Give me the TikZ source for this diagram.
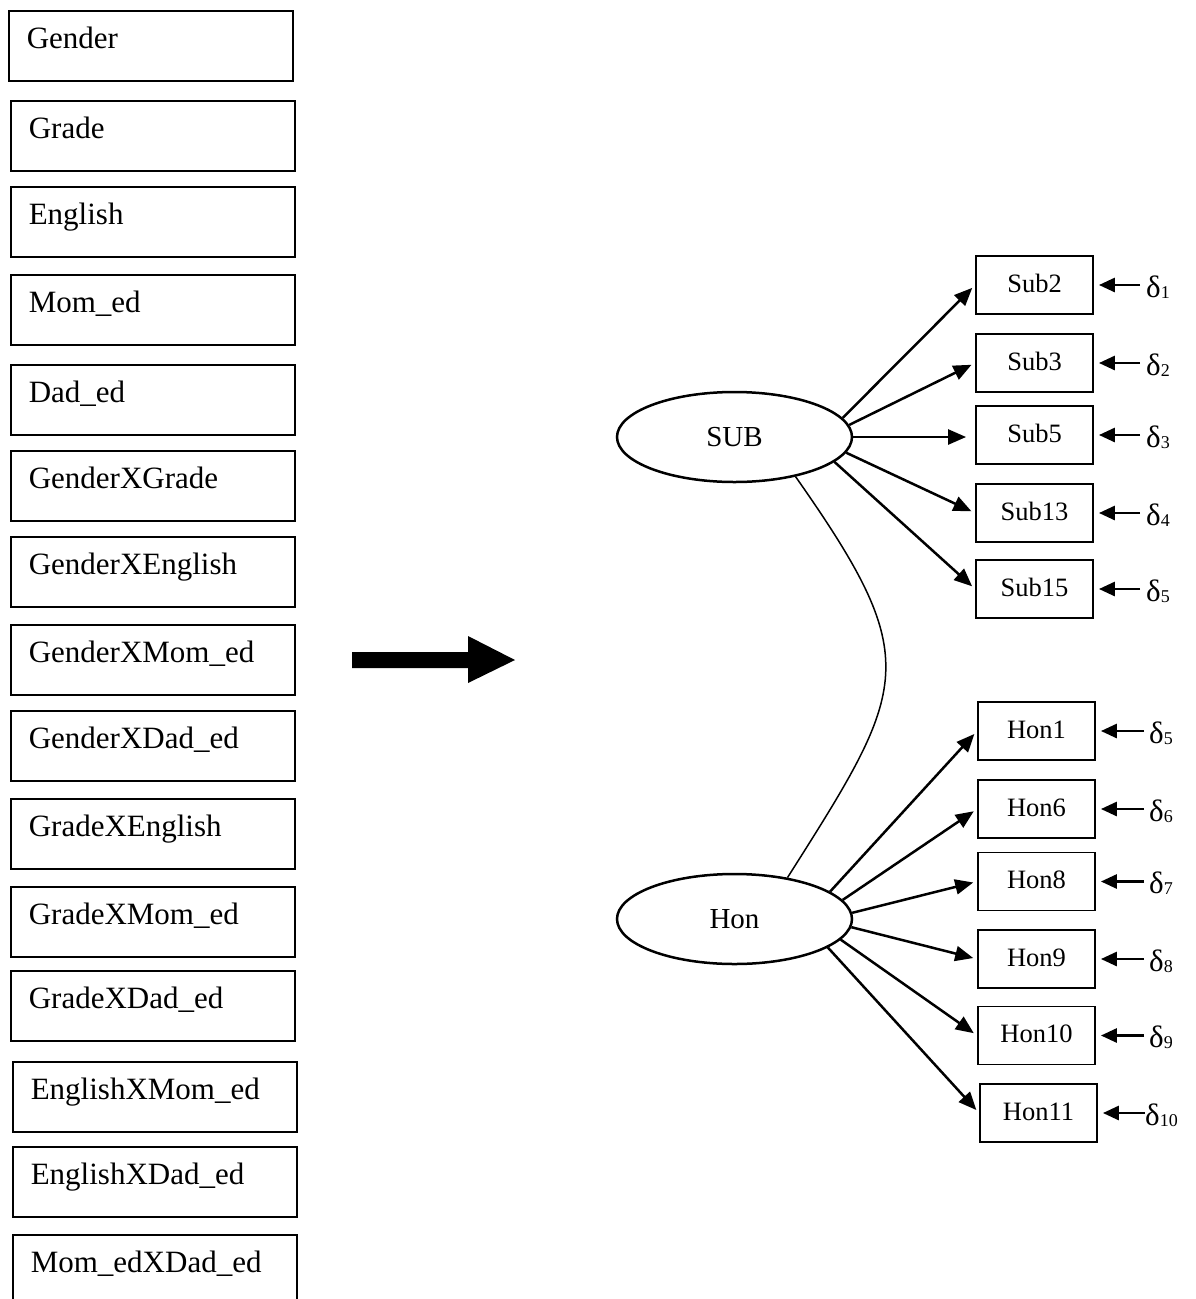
\documentclass[tikz,border=0pt]{standalone}
\usepackage{fontspec}
\setmainfont{Liberation Serif}
\newcommand\palfont[1]{\fontsize{#1}{#1}\selectfont}
\newcommand\dlabel[1]{{\fontsize{31}{31}\selectfont δ}\raisebox{-1pt}{\palfont{18}#1}}
\usetikzlibrary{shapes.geometric,arrows.meta}
\begin{document}
\begin{tikzpicture}[x=1pt,y=-1pt,
  lbox/.style={draw, line width=1.6pt, rectangle, anchor=north west,
    minimum width=284pt, minimum height=70pt, inner xsep=18pt, inner ysep=0pt,
    text width=248pt, align=left, text height=38pt, text depth=32pt,
    font=\palfont{31}},
  rbox/.style={draw, line width=1.8pt, rectangle, minimum width=117pt,
    minimum height=58pt, inner sep=0pt, text height=36pt, text depth=22pt,
    font=\palfont{26.5}},
  lat/.style={ellipse, draw, line width=2.5pt, minimum width=235pt,
    minimum height=90pt, inner sep=0pt, font=\palfont{29}},
  dlt/.style={anchor=base west, inner sep=0pt},
  larr/.style={line width=2.5pt, -{Triangle[length=18pt,width=15pt]}, shorten >=4pt},
  darr/.style={line width=2.8pt, -{Triangle[length=16pt,width=14pt]}, shorten >=5pt},
  corr/.style={line width=1.5pt}]
\useasboundingbox (0,0) rectangle (1195,1299);

% observed covariates
\node[lbox] (gender) at (8,10) {Gender};
\node[lbox] (grade) at (10,100) {Grade};
\node[lbox] (english) at (10,186) {English};
\node[lbox] (momed) at (10,274) {Mom\_ed};
\node[lbox] (daded) at (10,364) {Dad\_ed};
\node[lbox] (gXgr) at (10,450) {GenderXGrade};
\node[lbox] (gXen) at (10,536) {GenderXEnglish};
\node[lbox] (gXmo) at (10,624) {GenderXMom\_ed};
\node[lbox] (gXda) at (10,710) {GenderXDad\_ed};
\node[lbox] (grXen) at (10,798) {GradeXEnglish};
\node[lbox] (grXmo) at (10,886) {GradeXMom\_ed};
\node[lbox] (grXda) at (10,970) {GradeXDad\_ed};
\node[lbox] (enXmo) at (12,1061) {EnglishXMom\_ed};
\node[lbox] (enXda) at (12,1146) {EnglishXDad\_ed};
\node[lbox] (moXda) at (12,1234) {Mom\_edXDad\_ed};

% block arrow
\fill (352,652) -- (468,652) -- (468,636) -- (515,660) -- (468,683)
  -- (468,668) -- (352,668) -- cycle;

% latent factors
\node[lat] (SUB) at (734.5,437) {SUB};
\node[lat] (Hon) at (734.5,919) {Hon};

% indicators
\node[rbox] (sub2) at (1034.5,285) {Sub2};
\node[rbox] (sub3) at (1034.5,363) {Sub3};
\node[rbox] (sub5) at (1034.5,435) {Sub5};
\node[rbox] (sub13) at (1034.5,513) {Sub13};
\node[rbox] (sub15) at (1034.5,589) {Sub15};
\node[rbox] (hon1) at (1036.5,731) {Hon1};
\node[rbox] (hon6) at (1036.5,809) {Hon6};
\node[rbox] (hon8) at (1036.5,881.5) {Hon8};
\node[rbox] (hon9) at (1036.5,959) {Hon9};
\node[rbox] (hon10) at (1036.5,1035.5) {Hon10};
\node[rbox] (hon11) at (1038.5,1113) {Hon11};

% error terms
\node[dlt] (d1) at (1146,297) {\dlabel{1}};
\node[dlt] (d2) at (1146,375) {\dlabel{2}};
\node[dlt] (d3) at (1146,447) {\dlabel{3}};
\node[dlt] (d4) at (1146,525) {\dlabel{4}};
\node[dlt] (d5) at (1146,601) {\dlabel{5}};
\node[dlt] (e5) at (1149,743) {\dlabel{5}};
\node[dlt] (e6) at (1149,821) {\dlabel{6}};
\node[dlt] (e7) at (1149,893.5) {\dlabel{7}};
\node[dlt] (e8) at (1149,971) {\dlabel{8}};
\node[dlt] (e9) at (1149,1047.5) {\dlabel{9}};
\node[dlt] (e10) at (1145,1125) {\dlabel{10}};

% loadings
\draw[larr] (SUB.10) -- (sub2.west);
\draw[larr] (SUB.6) -- (sub3.west);
\draw[larr, shorten >=9pt] (SUB.0) -- (sub5.west |- SUB.0);
\draw[larr] (SUB.-8) -- (sub13.west);
\draw[larr] (SUB.-14) -- (sub15.west);
\draw[larr] (Hon.16) -- (hon1.west);
\draw[larr] (Hon.10) -- (hon6.west);
\draw[larr] (Hon.3) -- (hon8.west);
\draw[larr] (Hon.-4) -- (hon9.west);
\draw[larr] (Hon.-11) -- (hon10.west);
\draw[larr] (Hon.-17) -- (hon11.west);

% error arrows
\draw[darr] ([xshift=-6pt]d1.west |- sub2.east) -- (sub2.east);
\draw[darr] ([xshift=-6pt]d2.west |- sub3.east) -- (sub3.east);
\draw[darr] ([xshift=-6pt]d3.west |- sub5.east) -- (sub5.east);
\draw[darr] ([xshift=-6pt]d4.west |- sub13.east) -- (sub13.east);
\draw[darr] ([xshift=-6pt]d5.west |- sub15.east) -- (sub15.east);
\draw[darr] ([xshift=-5pt]e5.west |- hon1.east) -- (hon1.east);
\draw[darr] ([xshift=-5pt]e6.west |- hon6.east) -- (hon6.east);
\draw[darr] ([xshift=-5pt]e7.west |- hon8.east) -- (hon8.east);
\draw[darr] ([xshift=-5pt]e8.west |- hon9.east) -- (hon9.east);
\draw[darr] ([xshift=-5pt]e9.west |- hon10.east) -- (hon10.east);
\draw[darr] ([xshift=0pt]e10.west |- hon11.east) -- (hon11.east);

% factor correlation
\draw[corr] (SUB.-33) .. controls (925,661) and (909,686) .. (Hon.38);
\end{tikzpicture}
\end{document}
